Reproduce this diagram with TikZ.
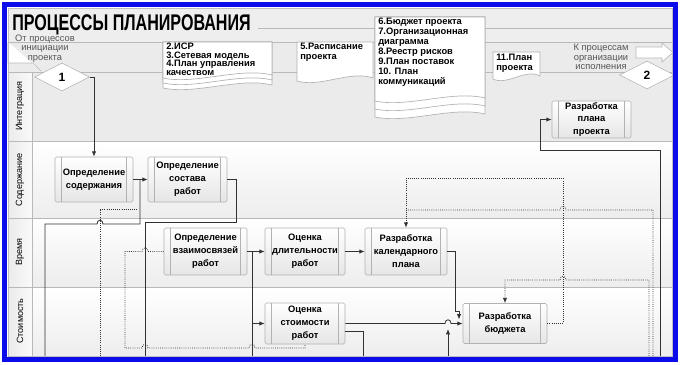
\documentclass[tikz,border=0pt]{standalone}
\usepackage{fontspec}
\setmainfont{Liberation Sans}
\usepackage{graphicx}
\usetikzlibrary{arrows.meta,shapes.geometric}
\definecolor{frameblue}{RGB}{12,12,235}
\definecolor{lanegray}{RGB}{235,235,235}
\definecolor{connc}{RGB}{50,50,50}
\definecolor{txtgray}{RGB}{85,85,85}
\newcommand\docshape[4]{%
  \filldraw[docst] (#1,#2) -- (#3,#2) -- (#3,#4-3) .. controls ({#1+0.7*(#3-#1)},{#4-11}) and ({#1+0.3*(#3-#1)},{#4+7}) .. (#1,#4) -- cycle;}
\begin{document}
\begin{tikzpicture}[x=0.75pt,y=-0.75pt,
  proc/.style={draw=gray!60, top color=white, bottom color=gray!20, rounded corners=1.2pt,
    align=center, font=\bfseries\fontsize{7}{9.8}\selectfont, inner sep=0pt,
    path picture={\draw[gray!60] ([xshift=5pt]path picture bounding box.north west) -- ([xshift=5pt]path picture bounding box.south west);
                  \draw[gray!60] ([xshift=-5pt]path picture bounding box.north east) -- ([xshift=-5pt]path picture bounding box.south east);}},
  dec/.style={diamond, aspect=2, draw=gray!60, fill=white, inner sep=0pt, minimum width=41pt, minimum height=21pt, font=\bfseries\fontsize{9}{9}\selectfont},
  docst/.style={draw=gray!60, fill=white, line width=0.5pt},
  doctxt/.style={anchor=north west, align=left, inner sep=0pt, font=\bfseries\fontsize{7}{7.5}\selectfont},
  graytxt/.style={anchor=north, align=center, inner sep=0pt, text=txtgray, font=\fontsize{7}{7.1}\selectfont},
  lanelabel/.style={rotate=90, inner sep=0pt, font=\fontsize{6.8}{7}\selectfont},
  laneline/.style={draw=gray!55, line width=0.5pt},
  conn/.style={draw=connc, line width=0.6pt},
  dots/.style={draw=connc, line width=0.6pt, densely dotted},
  arr/.style={-{Latex[length=4pt,width=3.2pt]}}
]
\useasboundingbox (0,0) rectangle (680,364);
\fill[white] (0,0) rectangle (680,364);
% panel backgrounds
\fill[gray!13] (8,8) rectangle (672,42);
\fill[lanegray] (8,42) rectangle (672,141);
\shade[top color=white, bottom color=gray!14] (32,141) rectangle (672,218);
\shade[top color=white, bottom color=gray!14] (32,218) rectangle (672,287);
\shade[top color=white, bottom color=gray!14] (32,287) rectangle (672,356);
\shade[left color=gray!16, right color=gray!4] (8,72) rectangle (32,356);
% lane lines
\draw[laneline] (258,28) -- (672,28);
\draw[laneline] (8,42) -- (672,42);
\draw[laneline] (8,72) -- (672,72);
\draw[laneline] (8,141) -- (672,141);
\draw[laneline] (8,218) -- (672,218);
\draw[laneline] (8,287) -- (672,287);
\draw[laneline] (32,72) -- (32,356);
% left and right block arrows
\draw[laneline, fill=white] (8,42) -- (8,63) -- (33,63) -- (41,71);
\draw[laneline, fill=white] (636,47) -- (662,47) -- (662,43) -- (673,52.5) -- (662,62) -- (662,58) -- (636,58) -- cycle;
% title
\node[anchor=base west, inner sep=0pt] (title) at (12,30) {\scalebox{0.71}[1]{\fontsize{17}{17}\selectfont\bfseries ПРОЦЕССЫ ПЛАНИРОВАНИЯ}};
% lane labels
\node[lanelabel] (l1) at (20,106) {Интеграция};
\node[lanelabel] (l2) at (20,180) {Содержание};
\node[lanelabel] (l3) at (20,252) {Время};
\node[lanelabel] (l4) at (20,321) {Стоимость};
% gray texts
\node[graytxt] (from) at (45,34.5) {От процессов\\инициации\\проекта};
\node[graytxt] (to) at (601,44) {К процессам\\организации\\исполнения};
% documents
\docshape{163}{42}{272}{88}
\docshape{163}{42}{272}{83}
\docshape{163}{42}{272}{78}
\node[doctxt, font=\bfseries\fontsize{7}{6.6}\selectfont] (doc1) at (166,42.5) {2.ИСР\\3.Сетевая модель\\4.План управления\\качеством};
\docshape{297}{42}{373}{81}
\node[doctxt] (doc2) at (300,43) {5.Расписание\\проекта};
\docshape{375}{17}{485}{117}
\docshape{375}{17}{485}{109}
\docshape{375}{17}{485}{101}
\node[doctxt] (doc3) at (378,17.5) {6.Бюджет проекта\\7.Организационная\\диаграмма\\8.Реестр рисков\\9.План поставок\\10. План\\коммуникаций};
\docshape{493}{52}{540}{79}
\node[doctxt] (doc4) at (496,54) {11.План\\проекта};
% decisions
\node[dec] (d1) at (62,77) {1};
\node[dec] (d2) at (647,75) {2};
% processes
\node[proc, minimum width=58.5pt, minimum height=33.75pt] (A) at (94,179.5) {Определение\\содержания};
\node[proc, minimum width=59.25pt, minimum height=33.75pt] (B) at (187.5,179.5) {Определение\\состава\\работ};
\node[proc, minimum width=62.25pt, minimum height=35.25pt] (C) at (205.5,251.5) {Определение\\взаимосвязей\\работ};
\node[proc, minimum width=60pt, minimum height=35.25pt] (D) at (305,251.5) {Оценка\\длительности\\работ};
\node[proc, minimum width=60pt, minimum height=30.75pt] (E) at (305,323.5) {Оценка\\стоимости\\работ};
\node[proc, minimum width=61.5pt, minimum height=35.25pt] (F) at (406,251.5) {Разработка\\календарного\\плана};
\node[proc, minimum width=63pt, minimum height=30pt] (G) at (505,323.5) {Разработка\\бюджета};
\node[proc, minimum width=59.25pt, minimum height=27.75pt, font=\bfseries\fontsize{7}{9.4}\selectfont] (H) at (591.5,119.5) {Разработка\\плана\\проекта};
% free ends
\coordinate (e1) at (45,356);
\coordinate (e2) at (145,356);
\coordinate (e3) at (100,356);
\coordinate (e4) at (252,356);
\coordinate (e5) at (363,356);
\coordinate (e6) at (448,356);
\coordinate (e7) at (660,356);
\coordinate (e8) at (653,356);
\coordinate (e9) at (649,356);
\coordinate (e10) at (137,209);
% solid connectors
\draw[conn, arr] (d1.east) -| (A.north);
\draw[conn, arr] (A.east) -- (B.west);
\draw[conn] (140,179.5) -- (140,224) -- (103,224) .. controls (103,219) and (97,219) .. (97,224) -- (45,224) -- (e1);
\draw[conn] (B.east) -- (236,179.5) -- (236,222) -- (145,222) -- (e2);
\draw[conn, arr] (C.east) -- (D.west);
\draw[conn] (252,251.5) -- (e4);
\draw[conn, arr] (252,323.5) -- (E.west);
\draw[conn, arr] (D.east) -- (F.west);
\draw[conn, arr] (F.east) -- (455,251.5) -- (455,311) -- (459,311) -- (459,319.5);
\draw[conn, arr] (E.east) -- (445,323.5) .. controls (445,318.5) and (451,318.5) .. (451,323.5) -- (G.west);
\draw[conn] (E.east |- 0,331) -- (363,331) -- (e5);
\draw[conn, arr] (e6) -- (448,329);
\draw[conn, arr] (e7) -- (660,150) -- (540,150) -- (540,119.5) -- (H.west);
% dotted connectors
\draw[dots] (e3) -- (100,209) -- (e10);
\draw[dots] (C.west) -- (148,251.5) .. controls (148,246.5) and (142,246.5) .. (142,251.5) -- (125,251.5) -- (125,348) -- (142,348) .. controls (142,343) and (148,343) .. (148,348) -- (249,348) .. controls (249,343) and (255,343) .. (255,348) -- (305,348) -- (E.south);
\draw[dots, arr] (G.east) -- (563,323.5) -- (563,178) -| (F.north);
\draw[dots] (e8) -- (653,210) -- (566,210) .. controls (566,205) and (560,205) .. (560,210) -- (406,210);
\draw[dots, arr] (e9) -- (649,280) -- (566,280) .. controls (566,275) and (560,275) .. (560,280) -- (505,280) -- (G.north);
% frame
\draw[gray!50, line width=0.6pt] (8,8) rectangle (672,356);
\draw[frameblue, line width=3.6pt] (4.5,4.5) rectangle (675.5,359.5);
\end{tikzpicture}
\end{document}
